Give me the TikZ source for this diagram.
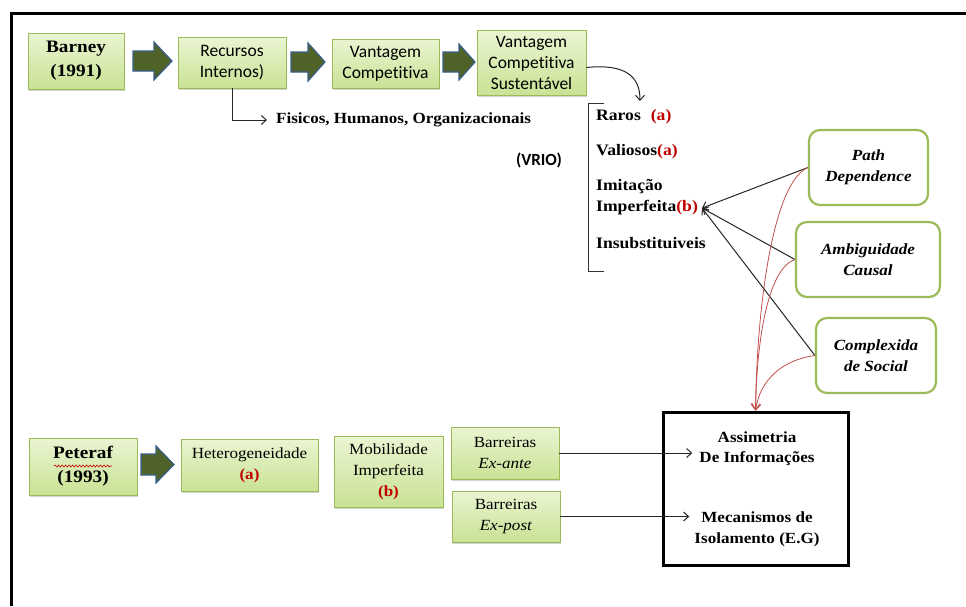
\documentclass[tikz,border=0pt]{standalone}
\usepackage{fontspec}
\setmainfont{Liberation Serif}[FakeStretch=1.1]
\newfontfamily\calibrifont{Carlito}[Ligatures={NoCommon}]
\usetikzlibrary{arrows.meta,shadows,decorations.pathmorphing,calc}
\definecolor{gtop}{HTML}{EAF5D2}
\definecolor{gbot}{HTML}{C9E294}
\definecolor{gborder}{HTML}{9BBB59}
\definecolor{olivefill}{HTML}{4F6228}
\definecolor{arrblue}{HTML}{3A5F8C}
\definecolor{labred}{HTML}{C00000}
\definecolor{curvered}{HTML}{C0504D}
\begin{document}
\begin{tikzpicture}[x=1pt,y=-1pt,
  gbox/.style={draw=gborder, line width=0.8pt, top color=gtop, bottom color=gbot,
    drop shadow={opacity=0.35,shadow xshift=1pt,shadow yshift=-1.5pt},
    align=center, inner sep=0pt},
  rbox/.style={draw=gborder, line width=2.2pt, rounded corners=11pt, fill=white,
    align=center, inner sep=0pt},
  blk/.style={fill=olivefill, draw=arrblue, line width=1.2pt, line join=miter},
  conn/.style={draw=black!85, line width=1pt, -{Straight Barb[length=5pt,width=9pt]}},
  rconn/.style={draw=curvered, line width=0.8pt, -{Straight Barb[length=6pt,width=9pt]}},
  calb/.style={font=\calibrifont\fontsize{17.5}{21}\selectfont},
  serif/.style={font=\fontsize{15.5}{21}\selectfont},
  item/.style={anchor=west, inner sep=2pt, font=\fontsize{16}{20}\selectfont\bfseries}
]
\useasboundingbox (0,0) rectangle (966,606);
% frame
\draw[line width=3pt, line join=miter] (966,13) -- (11,13) -- (11,606);

% top row
\node[gbox, minimum width=96pt, minimum height=56pt, font=\fontsize{17.5}{24}\selectfont\bfseries] (barney) at (76,61) {Barney\\(1991)};
\node[gbox, calb, minimum width=108pt, minimum height=51pt] (rec) at (232,62.5) {Recursos\\Internos)};
\node[gbox, calb, minimum width=107pt, minimum height=49pt] (vc) at (385.5,63.5) {Vantagem\\Competitiva};
\node[gbox, calb, minimum width=109pt, minimum height=65pt] (vcs) at (531.5,62.5) {Vantagem\\Competitiva\\Sustentável};

\filldraw[blk] (133,51) -- (154,51) -- (154,42) -- (172,61) -- (154,80) -- (154,71) -- (133,71) -- cycle;
\filldraw[blk] (291,52) -- (308,52) -- (308,43) -- (325,62) -- (308,81) -- (308,72) -- (291,72) -- cycle;
\filldraw[blk] (443,52) -- (459,52) -- (459,44) -- (475,62) -- (459,80) -- (459,72) -- (443,72) -- cycle;

\node[anchor=west, inner sep=2pt, inner xsep=9pt, font=\fontsize{15.5}{20}\selectfont\bfseries] (fis) at (267,120) {Fisicos, Humanos, Organizacionais};
\draw[conn] (rec.south) |- (fis.west);

% VRIO
\node[font=\calibrifont\fontsize{17}{20}\selectfont\bfseries] (vrio) at (539,160) {(VRIO)};
\draw[line width=1pt, black!80] (604,103) -- (588,103) -- (588,271) -- (604,271);
\node[item] (raros) at (594,117) {Raros\hspace{10pt}\textcolor{labred}{(a)}};
\node[item] (valiosos) at (594,152) {Valiosos\textcolor{labred}{(a)}};
\node[item] (imit1) at (594,187) {Imitação};
\node[item, inner sep=4pt] (imit2) at (592,208) {Imperfeita\textcolor{labred}{(b)}};
\node[item] (insub) at (594,243) {Insubstituiveis};

\coordinate (vtip) at (640,101);
\draw[conn] ([yshift=-5pt]vcs.east) .. controls +(40,-4) and +(0,-24) .. (vtip);

% rounded boxes
\node[rbox, minimum width=119pt, minimum height=75pt, font=\fontsize{15.5}{21}\selectfont\bfseries\itshape] (path) at (868.5,167.5) {Path\\Dependence};
\node[rbox, minimum width=144pt, minimum height=75pt, font=\fontsize{15.5}{21}\selectfont\bfseries\itshape] (ambi) at (868,259.5) {Ambiguidade\\Causal};
\node[rbox, minimum width=120pt, minimum height=75pt, font=\fontsize{15.5}{21}\selectfont\bfseries\itshape] (comp) at (876,355.5) {Complexida\\de Social};

% Assimetria box
\node[draw, line width=3pt, minimum width=185pt, minimum height=153pt] (assim) at (755.5,488.5) {};
\node[align=center, inner sep=2pt, inner xsep=7pt, font=\fontsize{15.5}{20}\selectfont\bfseries] (ainfo) at (757,449) {Assimetria\\De Informações};
\node[align=center, inner sep=2pt, inner xsep=5pt, font=\fontsize{15.5}{21}\selectfont\bfseries] (mecan) at (757,529.5) {Mecanismos de\\Isolamento (E.G)};

% black arrows to Imperfeita
\draw[conn] (path.west) -- (imit2.east);
\draw[conn] (ambi.west) -- (imit2.east);
\draw[conn] (comp.west) -- (imit2.east);

% red curves
\draw[rconn] (path.west) .. controls (774,182) and (757,300) .. (assim.north);
\draw[rconn] (ambi.west) .. controls (770,268) and (757,330) .. (assim.north);
\draw[rconn] (comp.west) .. controls (782,360) and (760,380) .. (assim.north);

% bottom row
\node[gbox, minimum width=108pt, minimum height=57pt, font=\fontsize{17.5}{24}\selectfont\bfseries] (peteraf) at (83,466.5) {Peteraf\\(1993)};
\draw[labred, line width=0.6pt, decorate, decoration={snake, amplitude=1pt, segment length=3.5pt}] (54,466) -- (112,466);
\filldraw[blk] (141,454) -- (156,454) -- (156,446) -- (174,464.5) -- (156,483) -- (156,475) -- (141,475) -- cycle;
\node[gbox, serif, minimum width=137pt, minimum height=52pt] (het) at (249.5,465) {Heterogeneidade\\\textcolor{labred}{\bfseries(a)}};
\node[gbox, serif, minimum width=109pt, minimum height=71pt] (mob) at (388.5,471.5) {Mobilidade\\Imperfeita\\\textcolor{labred}{\bfseries(b)}};
\node[gbox, serif, minimum width=108pt, minimum height=52pt] (exante) at (505,453) {Barreiras\\\textit{Ex-ante}};
\node[gbox, serif, minimum width=108pt, minimum height=51pt] (expost) at (506,516.5) {Barreiras\\\textit{Ex-post}};

\draw[conn] (exante.east) -- (exante.east -| ainfo.west);
\draw[conn] (expost.east) -- (expost.east -| mecan.west);
\end{tikzpicture}
\end{document}
